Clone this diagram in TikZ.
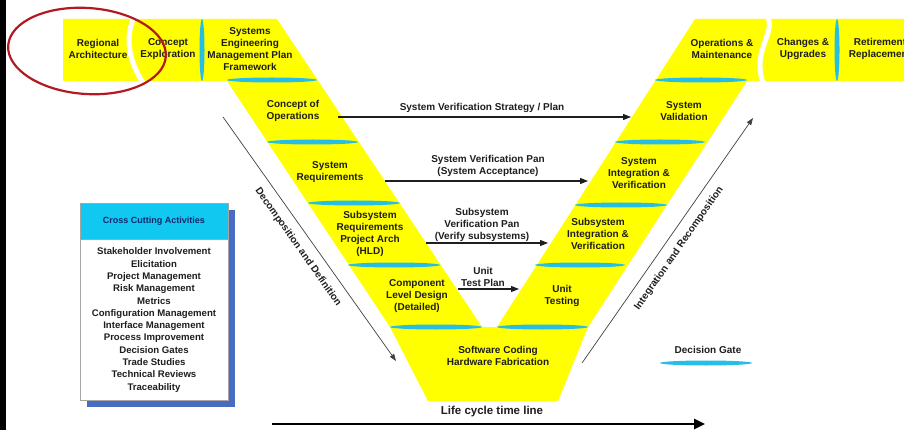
\documentclass[tikz,border=0pt]{standalone}
\usepackage{fontspec}
\setmainfont{Liberation Sans}
\usetikzlibrary{arrows.meta,shapes.geometric,shadows}
\definecolor{veeYellow}{RGB}{255,255,0}
\definecolor{gateCyan}{RGB}{38,190,228}
\definecolor{headCyan}{RGB}{16,200,240}
\definecolor{shadowBlue}{RGB}{72,108,196}
\definecolor{ringRed}{RGB}{180,24,32}
\definecolor{inkGray}{RGB}{30,30,30}
\definecolor{navyText}{RGB}{20,40,110}
\newcommand{\labelFont}{\fontsize{10}{12}\selectfont\bfseries}
\newcommand{\listFont}{\fontsize{9.6}{12.3}\selectfont\bfseries}
\tikzset{
  stageText/.style={align=center, text=inkGray, font=\labelFont, inner sep=1pt},
  gateMark/.style={ellipse, fill=gateCyan, draw=none, inner sep=0pt, minimum height=5pt},
  gateMarkV/.style={ellipse, fill=gateCyan, draw=none, inner sep=0pt, minimum width=5pt, minimum height=62pt},
  planArrow/.style={draw=inkGray, line width=1.1pt, -{Triangle[length=8pt,width=6pt]}},
  flowArrow/.style={draw=inkGray!85, line width=0.7pt, -{Triangle[length=7pt,width=5pt]}},
  flowText/.style={sloped, below=8pt, text=inkGray, font=\labelFont, inner sep=1pt},
  ccBox/.style={draw=gray!70, fill=white, line width=0.6pt, minimum width=148pt, minimum height=197pt,
    drop shadow={shadow xshift=7pt, shadow yshift=-7pt, fill=shadowBlue, opacity=1}},
  ccHead/.style={draw=gray!70, fill=headCyan, line width=0.6pt, minimum width=148pt, minimum height=36pt,
    text=navyText, font=\fontsize{9}{11}\selectfont\bfseries},
  ccList/.style={align=center, text=inkGray, font=\listFont, inner sep=0pt},
  timeLine/.style={draw=black, line width=2.4pt, -{Triangle[length=11pt,width=10pt]}}
}

\begin{document}
\begin{tikzpicture}[x=1pt, y=-1pt]
\useasboundingbox (0,0) rectangle (904,430);
\fill[black] (0,0) rectangle (6,430);

\fill[veeYellow] (63,19) -- (277,19) -- (482,327) -- (497,327) -- (695,19) -- (904,19)
  -- (904,81) -- (747,81) -- (588,327) -- (558,401) -- (428,401) -- (390,327)
  -- (227,81) -- (63,81) -- cycle;
\draw[white, line width=5pt] (134,17) .. controls (124,40) and (130,62) .. (143,83);
\draw[white, line width=5pt] (768,17) .. controls (775,35) and (752,50) .. (763,83);

\node[gateMarkV] (gTopL) at (202,50) {};
\node[gateMarkV] (gTopR) at (837,50) {};
\node[gateMark, minimum width=90pt] (gL1) at (272,80) {};
\node[gateMark, minimum width=91pt] (gL2) at (312.5,142) {};
\node[gateMark, minimum width=92pt] (gL3) at (354,203) {};
\node[gateMark, minimum width=92pt] (gL4) at (394,265) {};
\node[gateMark, minimum width=92pt] (gL5) at (436,327) {};
\node[gateMark, minimum width=91pt] (gR5) at (542.5,327) {};
\node[gateMark, minimum width=90pt] (gR4) at (580,265) {};
\node[gateMark, minimum width=92pt] (gR3) at (621,205) {};
\node[gateMark, minimum width=90pt] (gR2) at (660,142) {};
\node[gateMark, minimum width=92pt] (gR1) at (701,80) {};

\node[stageText] (regArch) at (98,49) {Regional\\Architecture};
\node[stageText] (conExp) at (168,49) {Concept\\Exploration};
\node[stageText] (semp) at (250,49) {Systems\\Engineering\\Management Plan\\Framework};
\node[stageText] (conOps) at (293,111) {Concept of\\Operations};
\node[stageText] (sysReq) at (330,172) {System\\Requirements};
\node[stageText] (subReq) at (370,234) {Subsystem\\Requirements\\Project Arch\\(HLD)};
\node[stageText] (compDesign) at (417,296) {Component\\Level Design\\(Detailed)};
\node[stageText] (swCoding) at (498,356) {Software Coding\\Hardware Fabrication};
\node[stageText] (unitTest) at (562,296) {Unit\\Testing};
\node[stageText] (subInt) at (598,234) {Subsystem\\Integration \&\\Verification};
\node[stageText] (sysInt) at (639,173) {System\\Integration \&\\Verification};
\node[stageText] (sysVal) at (684,111) {System\\Validation};
\node[stageText] (opsMaint) at (722,49) {Operations \&\\Maintenance};
\node[stageText] (changes) at (803,49) {Changes \&\\Upgrades};
\node[stageText] (retire) at (880,49) {Retirement\\Replacement};

\coordinate (vspFrom) at (338,117);
\coordinate (vspTo) at (631,117);
\coordinate (accFrom) at (385,181);
\coordinate (accTo) at (588,181);
\coordinate (subFrom) at (426,243);
\coordinate (subTo) at (548,243);
\coordinate (unitFrom) at (458,289);
\coordinate (unitTo) at (519,289);
\draw[planArrow] (vspFrom) -- (vspTo);
\draw[planArrow] (accFrom) -- (accTo);
\draw[planArrow] (subFrom) -- (subTo);
\draw[planArrow] (unitFrom) -- (unitTo);
\node[stageText] (vspLabel) at (482,108) {System Verification Strategy / Plan};
\node[stageText] (accLabel) at (488,166) {System Verification Pan\\(System Acceptance)};
\node[stageText] (subLabel) at (482,225) {Subsystem\\Verification Pan\\(Verify subsystems)};
\node[stageText] (unitLabel) at (483,277) {Unit\\Test Plan};

\coordinate (decFrom) at (223,117);
\coordinate (decTo) at (396,361);
\draw[flowArrow] (decFrom) -- node[flowText] (decLabel) {Decomposition and Definition} (decTo);
\coordinate (intFrom) at (582,363);
\coordinate (intTo) at (753,118);
\draw[flowArrow] (intFrom) -- node[flowText] (intLabel) {Integration and Recomposition} (intTo);

\node[ccBox] (ccFrame) at (154,301.5) {};
\node[ccHead] (ccTitle) at (154,221) {Cross Cutting Activities};
\node[ccList] (ccItems) at (154,320) {Stakeholder Involvement\\Elicitation\\Project Management\\Risk Management\\Metrics\\Configuration Management\\Interface Management\\Process Improvement\\Decision Gates\\Trade Studies\\Technical Reviews\\Traceability};

\node[stageText] (gateLabel) at (708,350) {Decision Gate};
\node[gateMark, minimum width=92pt] (gateKey) at (706,363) {};

\node[text=inkGray, font=\fontsize{11.5}{13}\selectfont\bfseries] (lifeLabel) at (492,412) {Life cycle time line};
\coordinate (lifeFrom) at (272,424);
\coordinate (lifeTo) at (705,424);
\draw[timeLine] (lifeFrom) -- (lifeTo);

\draw[ringRed, line width=2.2pt, rotate around={-4:(87,51)}] (87,51) ellipse [x radius=79pt, y radius=43pt];
\end{tikzpicture}
\end{document}
